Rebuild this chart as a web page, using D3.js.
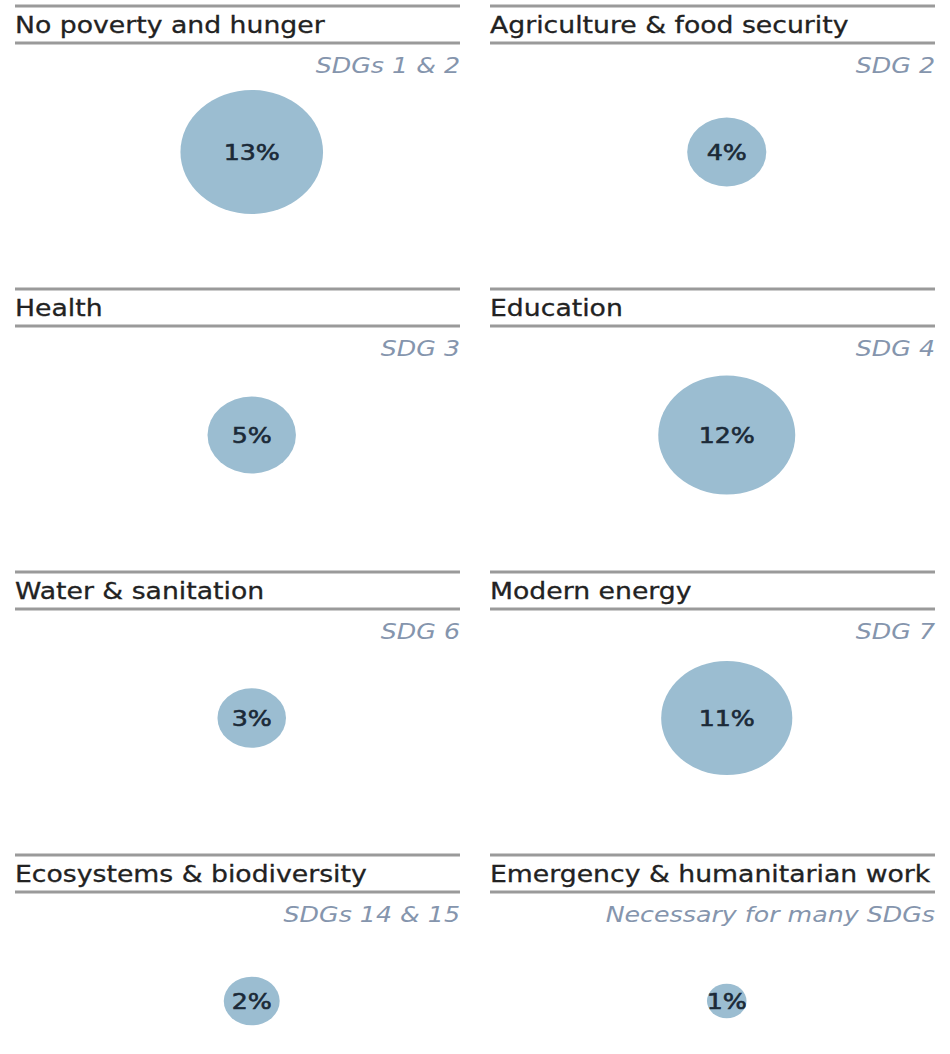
<!DOCTYPE html>
<html>
<head>
<meta charset="utf-8">
<script src="https://cdn.jsdelivr.net/npm/d3@7"></script>
<style>
  html, body { margin: 0; padding: 0; background: #ffffff; }
  svg { display: block; }
</style>
</head>
<body>
<svg id="chart" width="950" height="1054"></svg>
<script>
const categories = [
  "No poverty and hunger",
  "Agriculture & food security",
  "Health",
  "Education",
  "Water & sanitation",
  "Modern energy",
  "Ecosystems & biodiversity",
  "Emergency & humanitarian work"
];
const goals = [
  "SDGs 1 & 2",
  "SDG 2",
  "SDG 3",
  "SDG 4",
  "SDG 6",
  "SDG 7",
  "SDGs 14 & 15",
  "Necessary for many SDGs"
];
const shares = [13, 4, 5, 12, 3, 11, 2, 1];

const sx = 1.15; // horizontal stretch of the original artwork
const svg = d3.select("#chart");
const root = svg.append("g").attr("transform", `scale(${sx},1)`);

const cols = 2, rows = 4;
const colScale = d3.scaleBand().domain(d3.range(cols)).range([15 / sx, 935 / sx]).paddingInner(0.0632);
const rowScale = d3.scaleBand().domain(d3.range(rows)).range([6, 6 + 283 * rows]);
const r = d3.scaleSqrt().domain([0, 13]).range([0, 62]);

const data = categories.map((c, i) => ({ cat: c, goal: goals[i], v: shares[i], col: i % cols, row: Math.floor(i / cols) }));

const panel = root.selectAll("g.panel").data(data).join("g")
  .attr("class", "panel")
  .attr("transform", d => `translate(${colScale(d.col)},${rowScale(d.row)})`);

const pw = colScale.bandwidth();
const font = "DejaVu Sans, Verdana, sans-serif";

panel.append("line").attr("x1", 0).attr("x2", pw).attr("y1", 0).attr("y2", 0)
  .attr("stroke", "#9a9a9a").attr("stroke-width", 3);
panel.append("line").attr("x1", 0).attr("x2", pw).attr("y1", 37).attr("y2", 37)
  .attr("stroke", "#9a9a9a").attr("stroke-width", 3);

panel.append("text").attr("x", 0).attr("y", 27)
  .attr("font-family", font)
  .attr("font-size", 23.2).attr("fill", "#222222")
  .attr("stroke", "#222222").attr("stroke-width", 0.3)
  .text(d => d.cat);

panel.append("text").attr("x", pw).attr("y", 67)
  .attr("text-anchor", "end")
  .attr("font-family", font)
  .attr("font-style", "italic")
  .attr("font-size", 22).attr("fill", "#8595ad")
  .text(d => d.goal);

panel.append("circle")
  .attr("cx", pw * 0.532).attr("cy", 146)
  .attr("r", d => r(d.v))
  .attr("fill", "#9bbdd1");

panel.append("text")
  .attr("x", pw * 0.532).attr("y", 146)
  .attr("dy", "0.35em")
  .attr("text-anchor", "middle")
  .attr("font-family", font)
  .attr("font-size", 22).attr("fill", "#1b2a38")
  .attr("stroke", "#1b2a38").attr("stroke-width", 0.6)
  .text(d => d.v + "%");
</script>
</body>
</html>
